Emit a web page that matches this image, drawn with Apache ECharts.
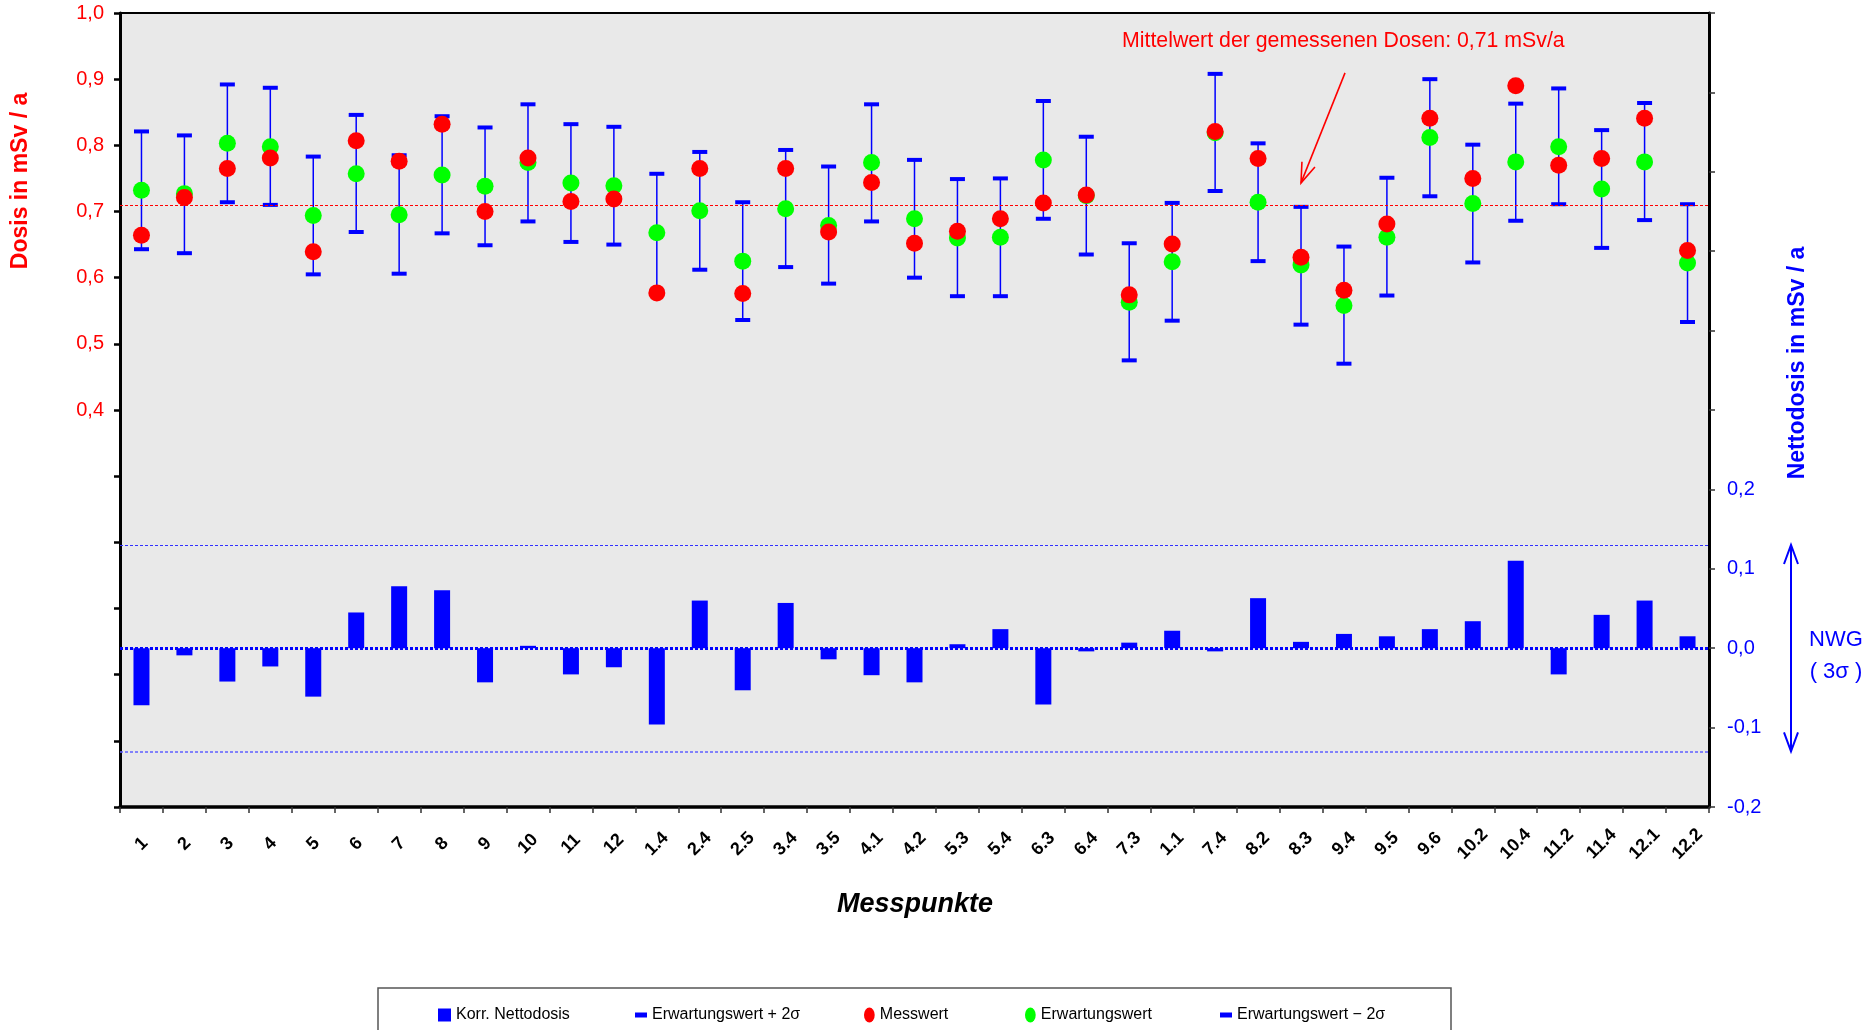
<!DOCTYPE html>
<html>
<head>
<meta charset="utf-8">
<script src="https://cdn.jsdelivr.net/npm/echarts@6/dist/echarts.min.js"></script>
<style>
html,body{margin:0;padding:0;background:#ffffff;}
#c{width:1872px;height:1030px;}
</style>
</head>
<body>
<div id="c"></div>
<script>
// ---------------- data ----------------
const categories = ['1','2','3','4','5','6','7','8','9','10','11','12',
  '1.4','2.4','2.5','3.4','3.5','4.1','4.2','5.3','5.4','6.3','6.4','7.3',
  '1.1','7.4','8.2','8.3','9.4','9.5','9.6','10.2','10.4','11.2','11.4','12.1','12.2'];

const messwert = [0.664,0.721,0.765,0.781,0.639,0.807,0.776,0.832,0.700,0.781,0.715,0.719,
  0.577,0.765,0.576,0.765,0.669,0.744,0.652,0.670,0.689,0.713,0.725,0.574,
  0.651,0.821,0.780,0.631,0.581,0.681,0.841,0.750,0.890,0.770,0.780,0.841,0.641];

const erwartungswert = [0.732,0.727,0.803,0.798,0.694,0.757,0.695,0.755,0.738,0.774,0.743,0.739,
  0.668,0.701,0.625,0.704,0.679,0.774,0.689,0.660,0.661,0.778,0.724,0.563,
  0.624,0.819,0.714,0.619,0.558,0.661,0.812,0.712,0.775,0.798,0.734,0.775,0.622];

const upper2s = [0.821,0.815,0.892,0.887,0.783,0.846,0.785,0.844,0.827,0.862,0.832,0.828,
  0.757,0.790,0.714,0.793,0.768,0.862,0.778,0.749,0.750,0.867,0.813,0.652,
  0.713,0.908,0.803,0.707,0.647,0.751,0.900,0.801,0.863,0.886,0.823,0.864,0.711];

const lower2s = [0.643,0.637,0.714,0.710,0.605,0.669,0.606,0.667,0.649,0.685,0.654,0.650,
  0.579,0.612,0.536,0.616,0.591,0.685,0.600,0.572,0.572,0.689,0.635,0.475,
  0.535,0.731,0.625,0.529,0.470,0.573,0.723,0.623,0.686,0.711,0.645,0.687,0.533];

const nettodosis = [-0.072,-0.009,-0.042,-0.023,-0.061,0.045,0.078,0.073,-0.043,0.003,-0.033,-0.024,
  -0.096,0.060,-0.053,0.057,-0.014,-0.034,-0.043,0.005,0.024,-0.071,-0.004,0.007,
  0.022,-0.004,0.063,0.008,0.018,0.015,0.024,0.034,0.110,-0.033,0.042,0.060,0.015];

const MEAN = 0.713;          // Mittelwert der gemessenen Dosen
const NWG = 0.13;            // Nachweisgrenze (3 sigma)
const leftAxisRange = [-0.2, 1.0];
const rightAxisRange = [-0.2, 0.8];
const axisStep = 0.1;

// ---------------- chart ----------------
const FONT = '"Liberation Sans", Arial, Helvetica, sans-serif';
const BLUE = '#0000FF', RED = '#FF0000', GREEN = '#00FF00';
const fmt = v => { const r = Math.round(v * 10) / 10; return (r < 0 ? '-' : '') + Math.abs(r).toFixed(1).replace('.', ','); };

const chart = echarts.init(document.getElementById('c'), null, {renderer: 'canvas', width: 1872, height: 1030});

const ellipse = 'path://M5,0 A5,7 0 1,1 5,14 A5,7 0 1,1 5,0 Z';

function legendItem(name, left, icon, w, h, color) {
  return {
    data: [{name: name, icon: icon, itemStyle: {color: color}}],
    left: left, top: 1007, orient: 'horizontal', padding: 0,
    itemWidth: w, itemHeight: h, itemGap: 0, selectedMode: false,
    textStyle: {fontFamily: FONT, fontSize: 16, color: '#000'}
  };
}

const option = {
  animation: false,
  backgroundColor: '#ffffff',
  grid: {left: 120, right: 163, top: 13, bottom: 223, show: true, backgroundColor: '#E9E9E9',
         borderColor: '#000', borderWidth: 2, containLabel: false, outerBoundsMode: 'none'},
  legend: [
    legendItem('Korr. Nettodosis', 438, 'rect', 13, 13, BLUE),
    legendItem('Erwartungswert + 2σ', 635, 'rect', 12, 5, BLUE),
    legendItem('Messwert', 864, ellipse, 11, 15, RED),
    legendItem('Erwartungswert', 1025, ellipse, 11, 15, GREEN),
    legendItem('Erwartungswert − 2σ', 1220, 'rect', 12, 5, BLUE)
  ],
  xAxis: {
    type: 'category', data: categories, boundaryGap: true,
    axisLine: {onZero: false, lineStyle: {color: '#000', width: 3.5}},
    axisTick: {show: true, length: 6, lineStyle: {color: '#333', width: 1.5}},
    axisLabel: {interval: 0, rotate: 45, margin: 37, align: 'center', verticalAlign: 'middle',
                fontFamily: FONT, fontWeight: 'bold', fontSize: 18, color: '#000'},
    splitLine: {show: false}
  },
  yAxis: [
    {
      type: 'value', position: 'left', min: leftAxisRange[0], max: leftAxisRange[1], interval: axisStep,
      axisLine: {show: true, lineStyle: {color: '#000', width: 3}},
      axisTick: {show: true, length: 6, lineStyle: {color: '#000', width: 2.5}},
      axisLabel: {margin: 16, fontFamily: FONT, fontSize: 20, color: RED,
                  formatter: v => (Math.round(v * 10) / 10 >= 0.4 ? fmt(v) : '')},
      splitLine: {show: false}
    },
    {
      type: 'value', position: 'right', min: rightAxisRange[0], max: rightAxisRange[1], interval: axisStep,
      axisLine: {show: true, lineStyle: {color: '#000', width: 3}},
      axisTick: {show: true, length: 6, lineStyle: {color: '#333', width: 1.5}},
      axisLabel: {margin: 18, fontFamily: FONT, fontSize: 20, color: BLUE,
                  formatter: v => (Math.round(v * 10) / 10 <= 0.2 ? fmt(v) : '')},
      splitLine: {show: false}
    }
  ],
  series: [
    {
      name: 'Korr. Nettodosis', type: 'bar', yAxisIndex: 1, data: nettodosis,
      barWidth: 16, itemStyle: {color: BLUE}, z: 2,
      markLine: {
        silent: true, symbol: 'none', label: {show: false}, animation: false,
        data: [
          {yAxis: NWG, lineStyle: {color: '#3030FF', width: 1.2, type: [3, 2]}},
          {yAxis: -NWG, lineStyle: {color: '#6060FF', width: 1.5, type: [3, 2]}},
          {yAxis: 0, lineStyle: {color: BLUE, width: 3, type: [3, 2]}}
        ]
      }
    },
    {
      name: 'errbars', type: 'custom', yAxisIndex: 0, z: 3,
      data: categories.map((c, i) => [i, lower2s[i], upper2s[i]]),
      encode: {x: 0, y: [1, 2]},
      renderItem: (params, api) => {
        const x = api.value(0);
        const lo = api.coord([x, api.value(1)]);
        const hi = api.coord([x, api.value(2)]);
        return {type: 'line', shape: {x1: lo[0], y1: lo[1], x2: hi[0], y2: hi[1]},
                style: {stroke: BLUE, lineWidth: 1.5}};
      },
      markLine: {
        silent: true, symbol: 'none', label: {show: false}, animation: false,
        data: [{yAxis: MEAN, lineStyle: {color: RED, width: 1.2, type: [3, 2]}}]
      }
    },
    {name: 'Erwartungswert + 2σ', type: 'scatter', yAxisIndex: 0, data: upper2s,
     symbol: 'rect', symbolSize: [15, 4], itemStyle: {color: BLUE, opacity: 1}, z: 4},
    {name: 'Erwartungswert − 2σ', type: 'scatter', yAxisIndex: 0, data: lower2s,
     symbol: 'rect', symbolSize: [15, 4], itemStyle: {color: BLUE, opacity: 1}, z: 4},
    {name: 'Erwartungswert', type: 'scatter', yAxisIndex: 0, data: erwartungswert,
     symbol: 'circle', symbolSize: 17, itemStyle: {color: GREEN, opacity: 1}, z: 5},
    {name: 'Messwert', type: 'scatter', yAxisIndex: 0, data: messwert,
     symbol: 'circle', symbolSize: 17, itemStyle: {color: RED, opacity: 1}, z: 6}
  ]
};

chart.setOption(option);

// ---------------- annotations (positions derived from the axes) ----------------
function arrowHead(tip, from, len, half) {
  const dx = tip[0] - from[0], dy = tip[1] - from[1];
  const L = Math.sqrt(dx * dx + dy * dy), ux = dx / L, uy = dy / L;
  const px = -uy, py = ux;
  return [[tip[0] - len * ux + half * px, tip[1] - len * uy + half * py], tip,
          [tip[0] - len * ux - half * px, tip[1] - len * uy - half * py]];
}

const yNwgTop = chart.convertToPixel({yAxisIndex: 1}, NWG);
const yNwgBot = chart.convertToPixel({yAxisIndex: 1}, -NWG);
const yZero = chart.convertToPixel({yAxisIndex: 1}, 0);
const yMean = chart.convertToPixel({yAxisIndex: 0}, MEAN);
const xTip = chart.convertToPixel({xAxisIndex: 0}, 27);
const nwgX = 1791;

const meanTip = [xTip, yMean - 20];
const meanFrom = [xTip + 44, yMean - 130];

chart.setOption({
  graphic: [
    {type: 'text', x: 21, y: 181, rotation: Math.PI / 2,
     style: {text: 'Dosis in mSv / a', fill: RED, font: 'bold 23px ' + FONT, align: 'center', verticalAlign: 'middle'}},
    {type: 'text', x: 1798, y: 363, rotation: Math.PI / 2,
     style: {text: 'Nettodosis in mSv / a', fill: BLUE, font: 'bold 23px ' + FONT, align: 'center', verticalAlign: 'middle'}},
    {type: 'text', x: 915, y: 905,
     style: {text: 'Messpunkte', fill: '#000', font: 'italic bold 27px ' + FONT, align: 'center', verticalAlign: 'middle'}},
    {type: 'text', x: 1122, y: 41, z: 20,
     style: {text: 'Mittelwert der gemessenen Dosen: 0,71 mSv/a', fill: RED, font: '21.3px ' + FONT, align: 'left', verticalAlign: 'middle'}},
    {type: 'line', z: 20, shape: {x1: meanFrom[0], y1: meanFrom[1], x2: meanTip[0], y2: meanTip[1]},
     style: {stroke: RED, lineWidth: 1.6}},
    {type: 'polyline', z: 20, shape: {points: arrowHead(meanTip, meanFrom, 20, 7)},
     style: {stroke: RED, lineWidth: 1.6, fill: null}},
    // NWG double arrow
    {type: 'line', shape: {x1: nwgX, y1: yNwgTop, x2: nwgX, y2: yNwgBot}, style: {stroke: BLUE, lineWidth: 2}},
    {type: 'polyline', shape: {points: arrowHead([nwgX, yNwgTop], [nwgX, yNwgBot], 19, 7)},
     style: {stroke: BLUE, lineWidth: 2, fill: null}},
    {type: 'polyline', shape: {points: arrowHead([nwgX, yNwgBot], [nwgX, yNwgTop], 19, 7)},
     style: {stroke: BLUE, lineWidth: 2, fill: null}},
    {type: 'text', x: 1836, y: yZero - 8,
     style: {text: 'NWG', fill: BLUE, font: '22px ' + FONT, align: 'center', verticalAlign: 'middle'}},
    {type: 'text', x: 1836, y: yZero + 24,
     style: {text: '( 3σ )', fill: BLUE, font: '22px ' + FONT, align: 'center', verticalAlign: 'middle'}},
    // legend frame
    {type: 'rect', shape: {x: 378, y: 988, width: 1073, height: 60},
     style: {stroke: '#555', lineWidth: 1.5, fill: null}}
  ]
});
</script>
</body>
</html>
